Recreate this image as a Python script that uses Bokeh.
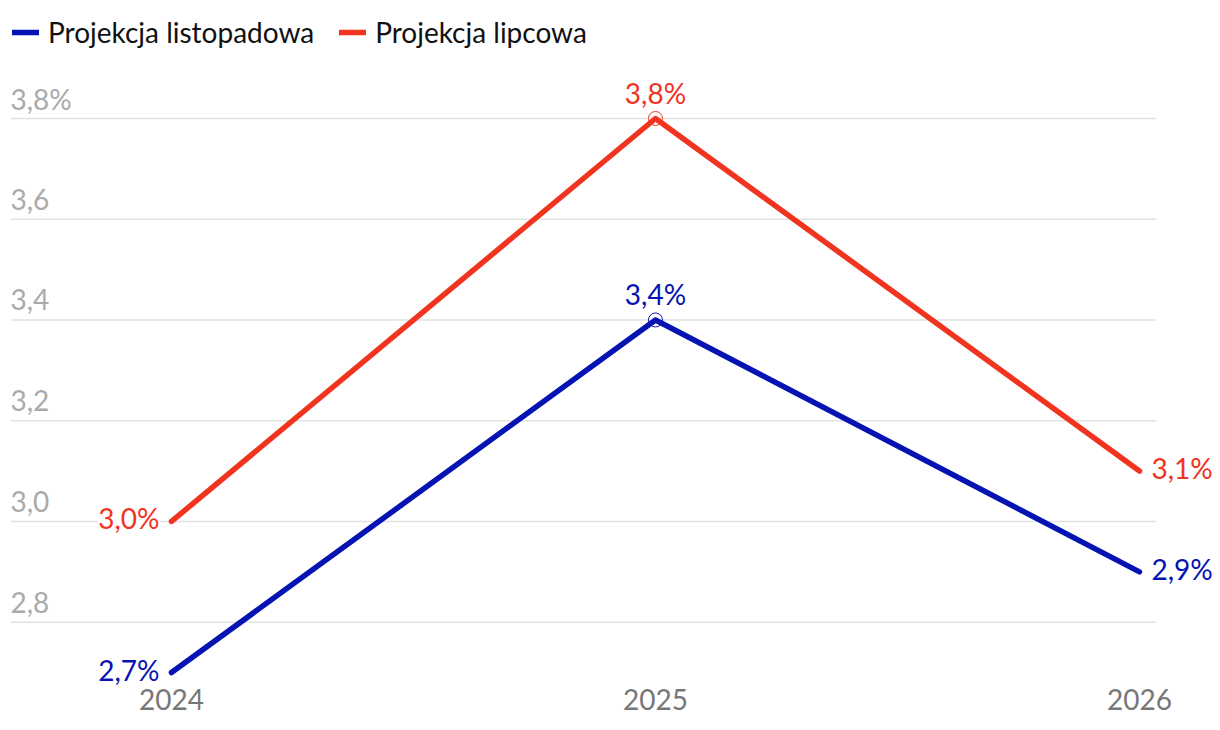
from bokeh.plotting import figure
from bokeh.models import Range1d, FixedTicker, Legend, LegendItem
from bokeh.core.properties import value
from bokeh.embed import file_html
from bokeh.resources import INLINE

# ---- data ----
years = [2024, 2025, 2026]
year_labels = ["2024", "2025", "2026"]
listopad = [2.7, 3.4, 2.9]
lipiec = [3.0, 3.8, 3.1]
listopad_labels = ["2,7%", "3,4%", "2,9%"]
lipiec_labels = ["3,0%", "3,8%", "3,1%"]
y_ticks = [2.8, 3.0, 3.2, 3.4, 3.6, 3.8]
y_tick_labels = ["2,8", "3,0", "3,2", "3,4", "3,6", "3,8%"]
series_names = ["Projekcja listopadowa", "Projekcja lipcowa"]

BLUE = "#0613b3"
RED = "#f0341f"
FONT = "Lato"
FS = "28px"
BASE_FIX = -10  # svg alphabetic-baseline correction (px)

x0, x1 = 2023.6674, 2026.1674
grid_end = 2026.0351
p = figure(width=1220, height=730, output_backend="svg", toolbar_location=None,
           x_range=Range1d(x0, x1), y_range=Range1d(2.66837, 4.03427),
           min_border_left=10, min_border_right=0, min_border_top=0, min_border_bottom=42)
p.outline_line_color = None
p.background_fill_color = "white"
p.border_fill_color = "white"

p.xgrid.visible = False
p.ygrid.visible = False
p.yaxis.visible = False

# horizontal gridlines
p.segment(x0=[x0] * len(y_ticks), y0=y_ticks, x1=[grid_end] * len(y_ticks), y1=y_ticks,
          line_color="#e2e2e2", line_width=1.5)

p.xaxis.ticker = FixedTicker(ticks=years)
p.xaxis.major_label_overrides = {y: l for y, l in zip(years, year_labels)}
p.xaxis.axis_line_color = None
p.xaxis.major_tick_line_color = None
p.xaxis.minor_tick_line_color = None
p.xaxis.major_tick_out = 0
p.xaxis.major_tick_in = 0
p.xaxis.major_label_standoff = 0
p.xaxis.major_label_text_font = FONT
p.xaxis.major_label_text_font_size = FS
p.xaxis.major_label_text_color = "#777777"

# y tick labels inside the plot, above gridlines
p.text(x=[x0] * len(y_ticks), y=y_ticks, text=y_tick_labels, x_offset=0, y_offset=-10 + BASE_FIX,
       text_align="left", text_baseline="alphabetic", text_font=value(FONT),
       text_font_size=FS, text_color="#aaaaaa")

# markers at the peak
p.scatter(x=[years[1]], y=[lipiec[1]], size=14, fill_color="white", line_color=RED, line_width=1)
p.scatter(x=[years[1]], y=[listopad[1]], size=14, fill_color="white", line_color=BLUE, line_width=1)

r_blue = p.line(years, listopad, line_color=BLUE, line_width=5.5, line_cap="round", line_join="round")
r_red = p.line(years, lipiec, line_color=RED, line_width=5.5, line_cap="round", line_join="round")

placement = [("right", -12, 7), ("center", 0, -16), ("left", 12, 7)]

def labels(vals, texts, color):
    for i, (al, xo, yo) in enumerate(placement):
        p.text(x=[years[i]], y=[vals[i]], text=[texts[i]], x_offset=xo, y_offset=yo + BASE_FIX,
               text_align=al, text_baseline="alphabetic", text_font=value(FONT),
               text_font_size=FS, text_color=color,
               background_fill_color="white" if i == 0 else None)

labels(listopad, listopad_labels, BLUE)
labels(lipiec, lipiec_labels, RED)

legend = Legend(items=[LegendItem(label=series_names[0], renderers=[r_blue]),
                       LegendItem(label=series_names[1], renderers=[r_red])],
                orientation="horizontal", location=(2, 639),
                label_text_font=FONT, label_text_font_size=FS, label_text_color="#111111",
                glyph_width=27, glyph_height=32, label_height=32, label_standoff=9, spacing=25,
                padding=0, margin=0, border_line_color=None, background_fill_alpha=0)
p.add_layout(legend)

open("out.html", "w").write(file_html(p, INLINE))
